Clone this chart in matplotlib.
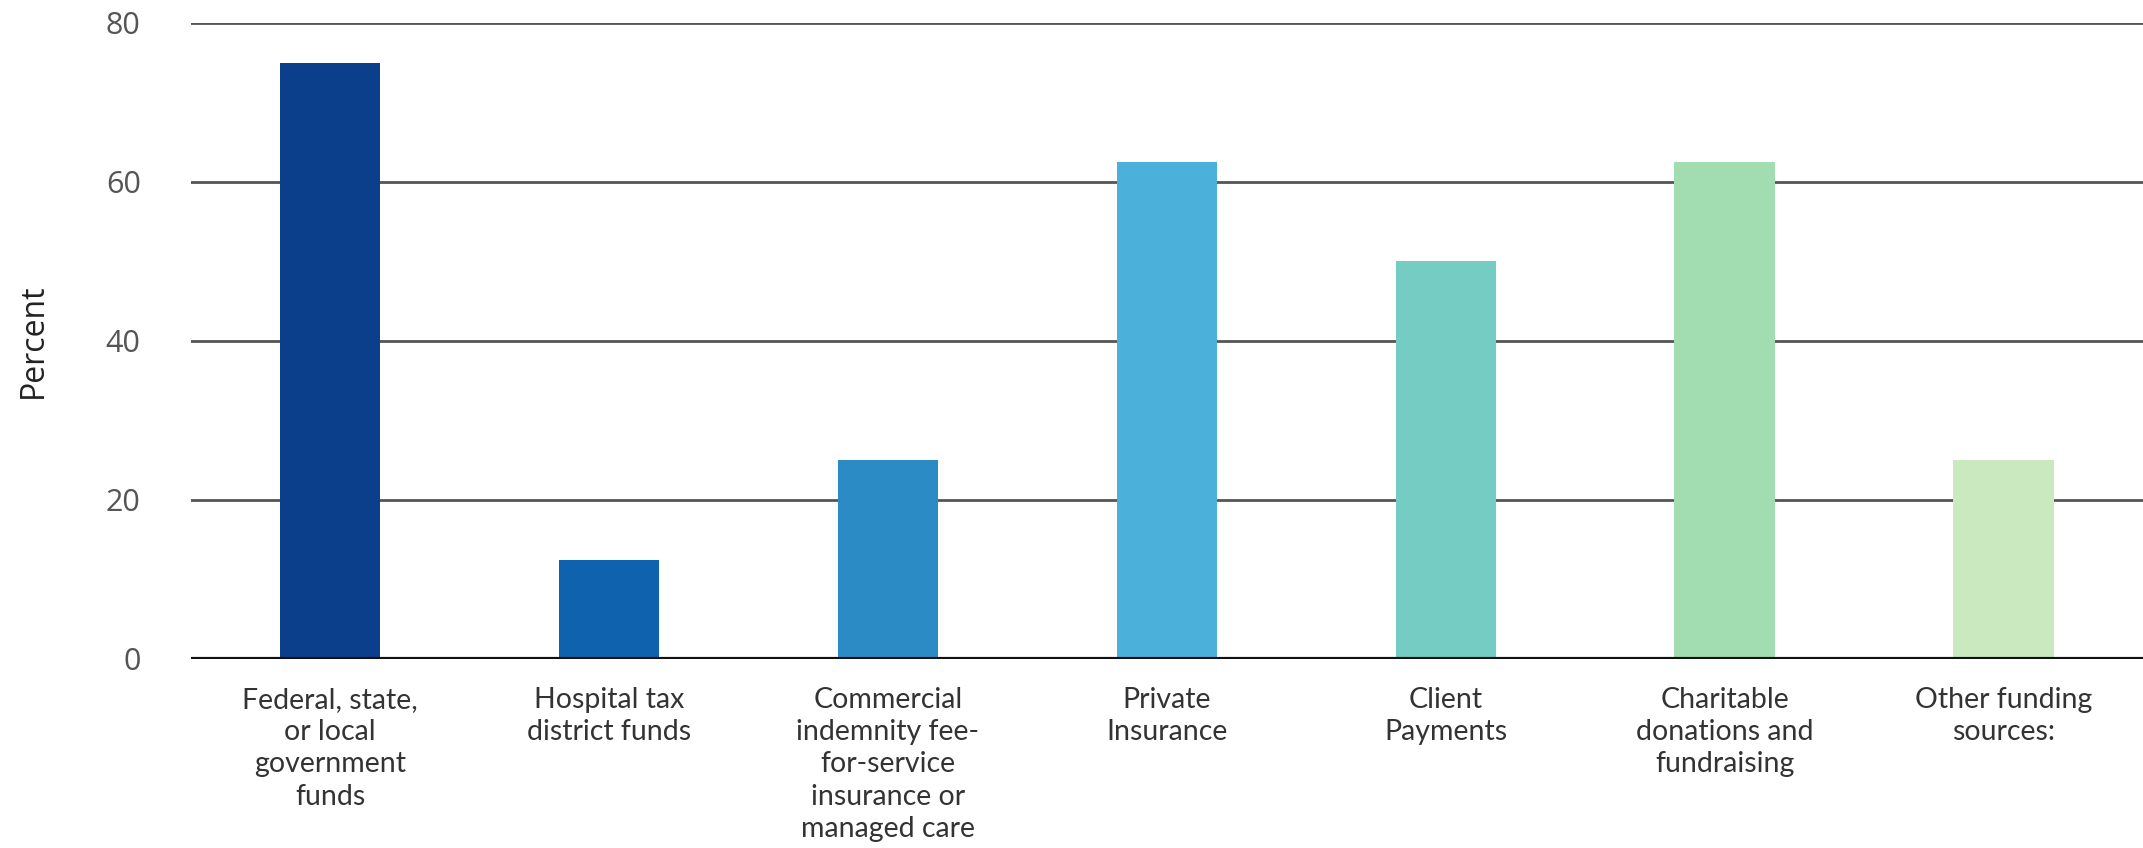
import matplotlib
matplotlib.use("Agg")
import matplotlib.pyplot as plt
from matplotlib import font_manager

categories = [
    "Federal, state,\nor local\ngovernment\nfunds",
    "Hospital tax\ndistrict funds",
    "Commercial\nindemnity fee-\nfor-service\ninsurance or\nmanaged care",
    "Private\nInsurance",
    "Client\nPayments",
    "Charitable\ndonations and\nfundraising",
    "Other funding\nsources:",
]
percent = [75, 12.5, 25, 62.5, 50, 62.5, 25]
bar_colors = ["#0b3f8b", "#0f62ad", "#2b8cc5", "#4bb0da", "#74ccc2", "#a2ddb2", "#cbe9bf"]
yticks = [0, 20, 40, 60, 80]

names = {f.name for f in font_manager.fontManager.ttflist}
family = "Liberation Sans Narrow" if "Liberation Sans Narrow" in names else "Lato"
plt.rcParams["font.family"] = [family, "DejaVu Sans"]

fig = plt.figure(figsize=(21.43, 8.48), dpi=100)
ax = fig.add_axes([0.089, 0.223, 0.911, 0.750])

x = range(len(categories))
ax.bar(x, percent, width=0.36, color=bar_colors, zorder=3)

ax.set_xlim(-0.5, len(categories) - 0.5)
ax.set_ylim(0, 80)
ax.set_yticks(yticks)
ax.set_yticklabels([str(t) for t in yticks], fontsize=22, color="#555555",
                   family=["Open Sans", "DejaVu Sans"])
ax.set_xticks(list(x))
ax.set_xticklabels(categories, fontsize=20.5, color="#333333", linespacing=1.3)
ax.tick_params(axis="both", length=0)
ax.tick_params(axis="x", pad=20)
ax.tick_params(axis="y", pad=36)

for t in yticks[1:]:
    ax.axhline(t, color="#555555", linewidth=2, zorder=1)
ax.axhline(0, color="#111111", linewidth=3, zorder=4)

for s in ax.spines.values():
    s.set_visible(False)

ax.set_ylabel("Percent", fontsize=23, color="#222222",
              family=["Open Sans", "DejaVu Sans"])
ax.yaxis.set_label_coords(-0.072, 0.5)

fig.savefig("out.png", dpi=100, facecolor="white")
